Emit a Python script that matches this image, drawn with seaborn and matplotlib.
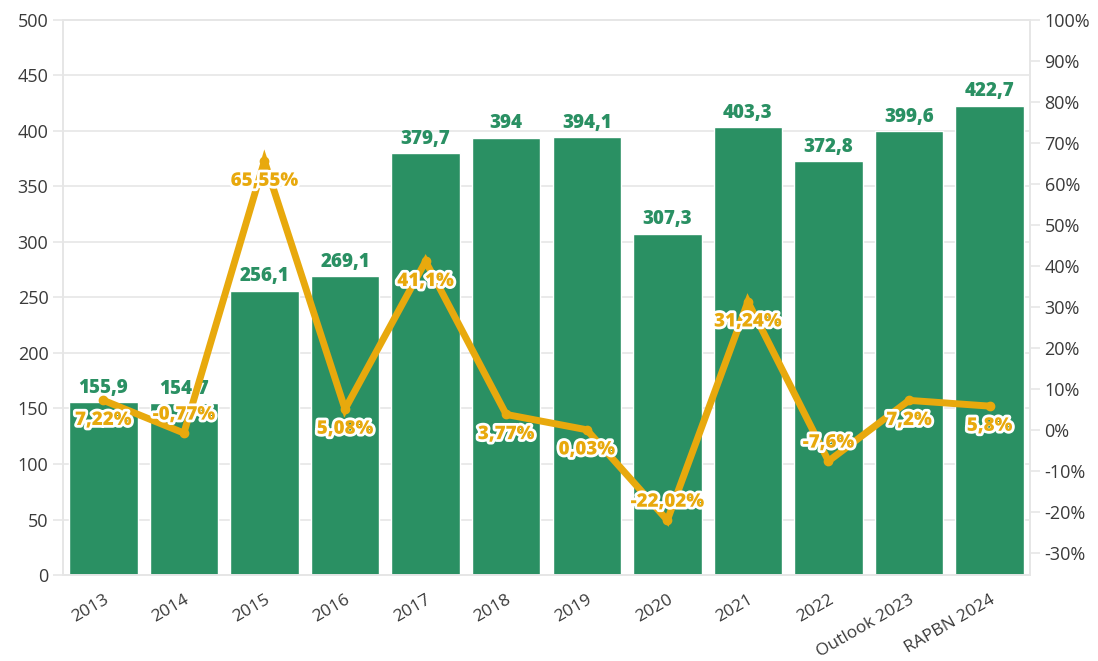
import numpy as np
import pandas as pd
import matplotlib
matplotlib.use('Agg')
import matplotlib.pyplot as plt
import matplotlib.patheffects as pe
import seaborn as sns

# data
years = ['2013', '2014', '2015', '2016', '2017', '2018', '2019', '2020',
         '2021', '2022', 'Outlook 2023', 'RAPBN 2024']
values = [155.9, 154.7, 256.1, 269.1, 379.7, 394, 394.1, 307.3,
          403.3, 372.8, 399.6, 422.7]
growth = [7.22, -0.77, 65.55, 5.08, 41.1, 3.77, 0.03, -22.02,
          31.24, -7.6, 7.2, 5.8]
value_labels = ['155,9', '154,7', '256,1', '269,1', '379,7', '394', '394,1',
                '307,3', '403,3', '372,8', '399,6', '422,7']
growth_labels = ['7,22%', '-0,77%', '65,55%', '5,08%', '41,1%', '3,77%',
                 '0,03%', '-22,02%', '31,24%', '-7,6%', '7,2%', '5,8%']

green = '#2a9063'
orange = '#e8a90d'
grid_c = '#e6e6e6'
text_c = '#3a3a3a'

sns.set_style('white')
plt.rcParams['font.family'] = ['Open Sans', 'DejaVu Sans']

df = pd.DataFrame({'year': years, 'value': values})

fig, ax = plt.subplots(figsize=(10.98, 6.61), dpi=100)
fig.subplots_adjust(left=0.0574, right=0.938, top=0.97, bottom=0.13)

sns.barplot(data=df, x='year', y='value', color=green, width=0.85,
            saturation=1, ax=ax, zorder=2)
ax.set_xlim(-0.5, len(years) - 0.5)
ax.set_ylim(0, 500)
ax.set_yticks(range(0, 501, 50))
ax.yaxis.grid(True, color=grid_c, linewidth=1.2, zorder=0)
ax.set_axisbelow(True)
ax.set_xlabel('')
ax.set_ylabel('')

for i, (v, lab) in enumerate(zip(values, value_labels)):
    ax.text(i, v + 4, lab, ha='center', va='bottom', color=green,
            fontsize=13.5, fontweight='heavy', zorder=3)

ax2 = ax.twinx()
x = np.arange(len(years))
ax2.plot(x, growth, color=orange, linewidth=5, marker='o', markersize=6,
         solid_joinstyle='miter', zorder=4)
ax2.set_ylim(-35.4, 100)
ax2.set_yticks(range(-30, 101, 10))
ax2.set_yticklabels([f'{t}%' for t in range(-30, 101, 10)])

for i, (g, lab) in enumerate(zip(growth, growth_labels)):
    dy = 4.5 if g < 0 else -4.8
    t = ax2.text(i, g + dy, lab, ha='center', va='center', color=orange,
                 fontsize=13.5, fontweight='heavy', zorder=5)
    t.set_path_effects([pe.withStroke(linewidth=4, foreground='white')])

for a in (ax, ax2):
    for s in a.spines.values():
        s.set_color(grid_c)
        s.set_linewidth(1.2)
    a.tick_params(axis='both', colors=grid_c, labelcolor=text_c,
                  labelsize=13, length=7, width=1.2)

ax.tick_params(axis='x', labelsize=12.5, pad=5)
plt.setp(ax.get_xticklabels(), rotation=30, ha='right',
         rotation_mode='anchor')

fig.savefig('out.png', dpi=100)
